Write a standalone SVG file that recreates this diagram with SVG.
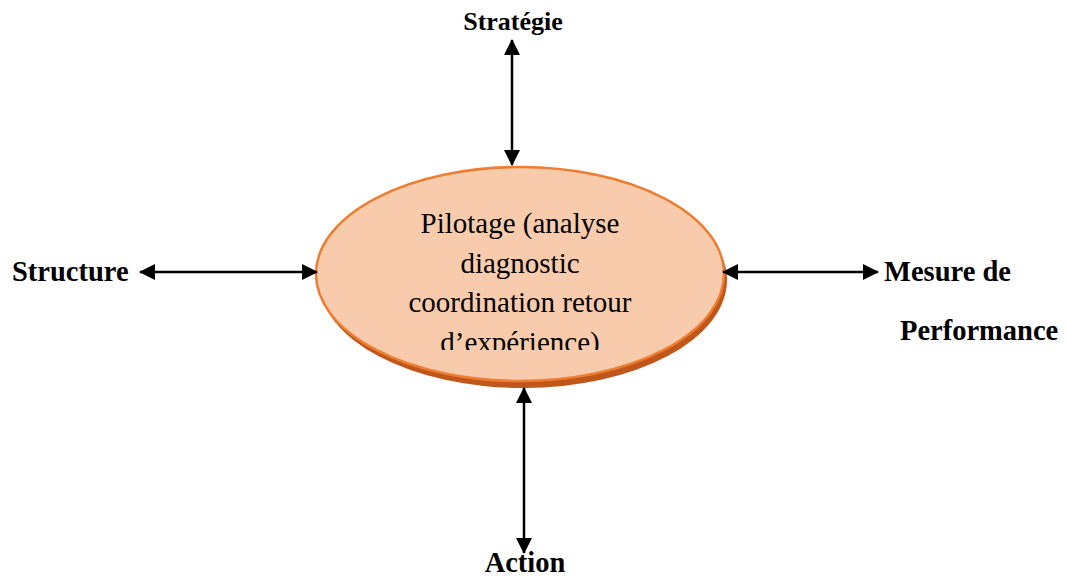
<svg xmlns="http://www.w3.org/2000/svg" width="1067" height="578" viewBox="0 0 1067 578">
  <style>
    .lbl { font-family: "Liberation Serif", "Times New Roman", serif; font-weight: bold; fill: #000; }
    .body { font-family: "Liberation Serif", "Times New Roman", serif; font-size: 29px; fill: #000; text-anchor: middle; }
    .conn { stroke: #000; stroke-width: 2.5; fill: none; }
  </style>
  <defs>
    <marker id="head" viewBox="0 0 16 16" refX="15" refY="8" markerWidth="16" markerHeight="16" markerUnits="userSpaceOnUse" orient="auto-start-reverse">
      <path d="M0,0 L16,8 L0,16 Z" fill="#000"/>
    </marker>
    <clipPath id="textClip">
      <rect x="330" y="190" width="380" height="160"/>
    </clipPath>
  </defs>

  <rect width="1067" height="578" fill="#fff"/>

  <!-- central node -->
  <g id="pilotage">
    <ellipse cx="523" cy="280" rx="204" ry="108" fill="#c0561a"/>
    <ellipse cx="520" cy="274" rx="204" ry="107" fill="#f8cbad" stroke="#ed7d31" stroke-width="2.5"/>
    <g clip-path="url(#textClip)">
      <text class="body" x="520" y="233">Pilotage (analyse</text>
      <text class="body" x="520" y="273">diagnostic</text>
      <text class="body" x="520" y="312">coordination retour</text>
      <text class="body" x="520" y="352">d’expérience)</text>
    </g>
  </g>

  <!-- outer labels -->
  <g id="strategie">
    <text class="lbl" x="513" y="30" font-size="26" text-anchor="middle">Stratégie</text>
  </g>
  <g id="structure">
    <text class="lbl" x="12" y="281" font-size="28.5">Structure</text>
  </g>
  <g id="mesure">
    <text class="lbl" x="884" y="281" font-size="28.5">Mesure de</text>
    <text class="lbl" x="900" y="340" font-size="28.5">Performance</text>
  </g>
  <g id="action">
    <text class="lbl" x="525" y="572" font-size="28.5" text-anchor="middle">Action</text>
  </g>

  <!-- two-way connectors -->
  <g id="connectors">
    <line class="conn" x1="512" y1="40" x2="512" y2="165" marker-start="url(#head)" marker-end="url(#head)"/>
    <line class="conn" x1="140" y1="272" x2="317" y2="272" marker-start="url(#head)" marker-end="url(#head)"/>
    <line class="conn" x1="723" y1="272" x2="878" y2="272" marker-start="url(#head)" marker-end="url(#head)"/>
    <line class="conn" x1="524" y1="388" x2="524" y2="553" marker-start="url(#head)" marker-end="url(#head)"/>
  </g>
</svg>
